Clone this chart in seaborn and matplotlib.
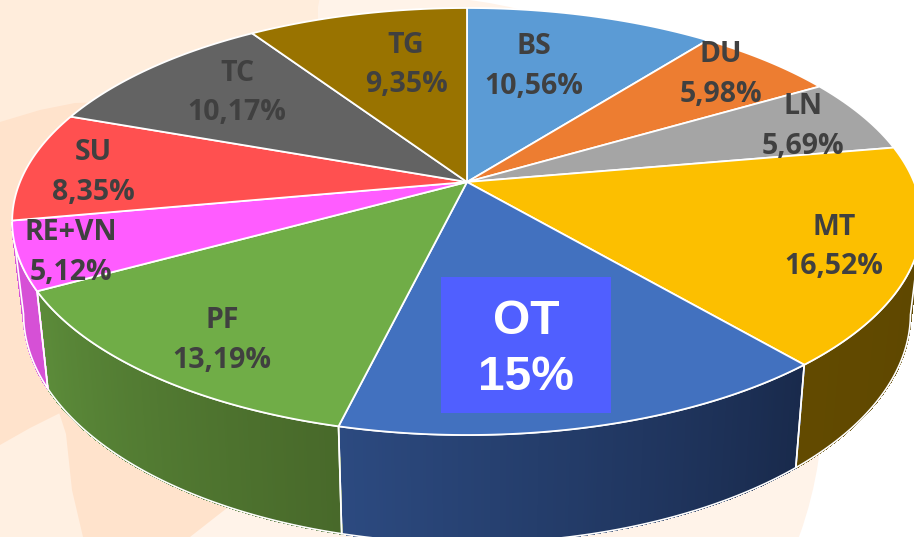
import numpy as np
import matplotlib
matplotlib.use("Agg")
import matplotlib.pyplot as plt
import seaborn as sns
from matplotlib.collections import PolyCollection
from matplotlib.patches import Circle, Polygon, Rectangle
from matplotlib.path import Path
from matplotlib.transforms import Affine2D, Transform

# ---- data ----
categories = ["BS", "DU", "LN", "MT", "OT", "PF", "RE+VN", "SU", "TC", "TG"]
shares = [10.56, 5.98, 5.69, 16.52, 15.0, 13.19, 5.12, 8.35, 10.17, 9.35]
share_labels = ["10,56%", "5,98%", "5,69%", "16,52%", "15%", "13,19%", "5,12%", "8,35%", "10,17%", "9,35%"]
slice_colors = ["#5B9BD5", "#ED7D31", "#A5A5A5", "#FCBF00", "#4271BF", "#70AD47",
                "#FF5CFF", "#FF5050", "#636363", "#997300"]

# ---- style / layout (pixels of the 914x537 picture) ----
label_centres = {"BS": (534, 43), "DU": (721, 51), "LN": (803, 103), "MT": (834, 224),
                 "PF": (222, 317), "RE+VN": (71, 229), "SU": (93, 149), "TC": (237, 70), "TG": (406, 42)}
wall_shades = {"MT": ("#624A00", "#5E4700"), "OT": ("#2C4A80", "#192A4C"),
               "PF": ("#5C8C3A", "#48692A"), "RE+VN": ("#D650D6", "#D650D6")}
CX, CY, RX, RY, TILT = 467.0, 182.0, 447.0, 206.2, 0.185


class TiltedDisc(Transform):
    """Maps the unit-circle pie onto the tilted disc seen in the picture."""
    input_dims = output_dims = 2
    is_separable = False
    has_inverse = False

    def transform_non_affine(self, xy):
        xy = np.asarray(xy, float)
        w = 1 + TILT * xy[:, 1]
        return np.column_stack([CX + RX * xy[:, 0] / w, CY - RY * xy[:, 1] / w])

    def transform_path_non_affine(self, path):
        up = Affine2D().scale(3000).transform_path(path)
        polys = up.to_polygons(closed_only=False)
        v = np.vstack(polys) / 3000
        return Path(self.transform_non_affine(v))


def lower_rim(pts):
    return np.column_stack([CX + 0.975 * (pts[:, 0] - CX), 389.5 + 1.074 * (pts[:, 1] - 292)])


sns.set_theme(style="white")
plt.rcParams["font.family"] = ["Open Sans", "DejaVu Sans"]
palette = sns.color_palette(slice_colors)

fig = plt.figure(figsize=(9.14, 5.37), dpi=100, facecolor="white")
ax = fig.add_axes([0, 0, 1, 1])
wedges, _ = ax.pie(shares, colors=palette, startangle=90, counterclock=False,
                   wedgeprops=dict(edgecolor="white", linewidth=1.3, zorder=4))
ax.set_aspect("auto")
ax.set_xlim(0, 914)
ax.set_ylim(537, 0)
ax.axis("off")

# background decoration
ax.add_patch(Circle((420, 400), 403, fc="#FFF3E9", ec="none", zorder=0))
ax.add_patch(Rectangle((300, 0), 113, 40, fc="#FFF3E9", ec="none", zorder=0))
ax.add_patch(Rectangle((0, 380), 100, 157, fc="#FFF0E2", ec="none", zorder=0))
ax.add_patch(Circle((0, -60), 325, fc="#FFEDDC", ec="none", zorder=0.1))
ax.add_patch(Rectangle((0, 0), 318, 125, fc="#FFEDDC", ec="none", zorder=0.1))
ax.add_patch(Polygon([(0, 122), (40, 110), (75, 103), (320, 95), (320, 300), (62, 412), (30, 428), (0, 445)],
                     fc="#FFE3CC", ec="none", zorder=0.2))
ax.add_patch(Polygon([(55, 400), (66, 434), (72, 490), (83, 537), (190, 537), (227, 508), (320, 430), (320, 300)],
                     fc="#FFE3CC", ec="none", zorder=0.2))

# top face: the pie's own wedges, tilted
disc = TiltedDisc()
for w in wedges:
    w.set_transform(disc + ax.transData)
    w.set_clip_on(False)

# side wall, from the same wedge angles; only the part facing the viewer
for w, name in zip(wedges, categories):
    if name not in wall_shades:
        continue
    t = np.radians(np.linspace(w.theta1, w.theta2, 161))
    t = t[np.sin(t) <= -TILT]
    rim = disc.transform_non_affine(np.column_stack([np.cos(t), np.sin(t)]))
    low = lower_rim(rim)
    order = np.argsort(rim[:, 0])
    rim, low = rim[order], low[order]
    quads = [[rim[i], rim[i + 1], low[i + 1], low[i]] for i in range(len(rim) - 1)]
    shades = sns.blend_palette(list(wall_shades[name]), len(quads))
    ax.add_collection(PolyCollection(quads, facecolors=shades, edgecolors=shades, linewidths=0.8,
                                     antialiaseds=False, zorder=2))
    ax.add_patch(Polygon(np.vstack([rim, low[::-1]]), closed=True, fc="none", ec="white", lw=1.2, zorder=3))

# labels
for name, text in zip(categories, share_labels):
    if name == "OT":
        continue
    x, y = label_centres[name]
    ax.text(x, y, name, ha="center", va="center_baseline", fontsize=20.5, fontweight="bold", color="#404040", zorder=6)
    ax.text(x, y + 39.5, text, ha="center", va="center_baseline", fontsize=20.5, fontweight="bold", color="#404040", zorder=6)

ax.add_patch(Rectangle((441, 277), 170, 136, fc="#505FFF", ec="none", zorder=7))
ot_index = categories.index("OT")
ax.text(526, 317, categories[ot_index], ha="center", va="center_baseline", fontsize=34.5, fontweight="bold",
        family="Liberation Sans", color="white", zorder=8)
ax.text(526, 373, share_labels[ot_index], ha="center", va="center_baseline", fontsize=34.5, fontweight="bold",
        family="Liberation Sans", color="white", zorder=8)

fig.savefig("out.png", dpi=100, facecolor="white")
